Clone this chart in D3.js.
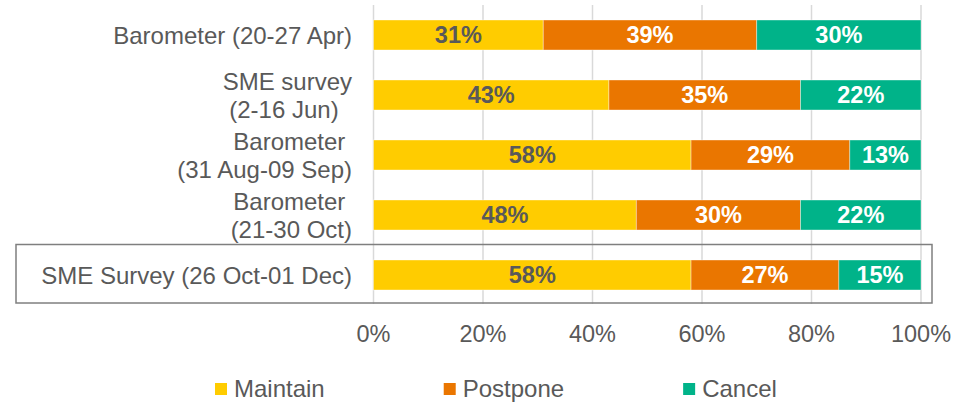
<!DOCTYPE html>
<html>
<head>
<meta charset="utf-8">
<script src="https://cdn.jsdelivr.net/npm/d3@7"></script>
<style>
    html, body { margin: 0; padding: 0; background: #fff; }
    svg { display: block; font-family: "Liberation Sans", Arial, sans-serif; }
    .cat-label, .legend-label { white-space: pre; }
</style>
</head>
<body>
<div id="chart"></div>
<script>
(function () {
    "use strict";

    // Category labels, one entry per line (trailing spaces as in the original)
    const categories = [
        ["Barometer (20-27 Apr)"],
        ["SME survey", "(2-16 Jun)  "],
        ["Barometer ", "(31 Aug-09 Sep)"],
        ["Barometer ", "(21-30 Oct)"],
        ["SME Survey (26 Oct-01 Dec)"]
    ];
    const seriesNames = ["Maintain", "Postpone", "Cancel"];
    const maintain = [31, 43, 58, 48, 58];
    const postpone = [39, 35, 29, 30, 27];
    const cancel = [30, 22, 13, 22, 15];
    const tickValues = [0, 20, 40, 60, 80, 100];
    const boxedRow = 4;

    const width = 975;
    const height = 402;
    const colors = { Maintain: "#ffcc00", Postpone: "#ea7600", Cancel: "#00b389" };
    const labelColors = { Maintain: "#595959", Postpone: "#ffffff", Cancel: "#ffffff" };
    const textGray = "#595959";

    const rows = categories.map((lines, i) => ({
        key: i,
        lines: lines,
        Maintain: maintain[i],
        Postpone: postpone[i],
        Cancel: cancel[i]
    }));

    const stacked = d3.stack().keys(seriesNames)(rows);

    const x = d3.scaleLinear().domain([0, 100]).range([373.5, 921]);
    const y = d3.scaleBand()
        .domain(rows.map((d) => d.key))
        .range([5, 305])
        .paddingInner(0.5)
        .paddingOuter(0.25);

    const svg = d3.select("#chart")
        .append("svg")
        .attr("width", width)
        .attr("height", height);

    // vertical gridlines
    svg.append("g")
        .selectAll("line")
        .data(tickValues)
        .join("line")
        .attr("x1", (d) => x(d))
        .attr("x2", (d) => x(d))
        .attr("y1", 5)
        .attr("y2", 304)
        .attr("stroke", "#d9d9d9")
        .attr("stroke-width", 1.5);

    // box around the latest survey
    svg.append("rect")
        .attr("x", 16)
        .attr("y", y(boxedRow) - 15.5)
        .attr("width", 916)
        .attr("height", 58.5)
        .attr("fill", "none")
        .attr("stroke", "#7f7f7f")
        .attr("stroke-width", 1.5);

    // bars
    const series = svg.append("g")
        .selectAll("g")
        .data(stacked)
        .join("g")
        .attr("fill", (s) => colors[s.key]);

    series.selectAll("rect")
        .data((s) => s)
        .join("rect")
        .attr("x", (d) => x(d[0]))
        .attr("width", (d) => x(d[1]) - x(d[0]))
        .attr("y", (d) => y(d.data.key))
        .attr("height", y.bandwidth())
        .attr("stroke", "#ffffff")
        .attr("stroke-opacity", 0.5)
        .attr("stroke-width", 0.75);

    // value labels
    series.selectAll("text")
        .data((s) => s.map((d) => ({ d: d, key: s.key })))
        .join("text")
        .attr("x", (o) => (x(o.d[0]) + x(o.d[1])) / 2)
        .attr("y", (o) => y(o.d.data.key) + y.bandwidth() / 2 + 8)
        .attr("text-anchor", "middle")
        .attr("font-size", 23.5)
        .attr("font-weight", "bold")
        .attr("fill", (o) => labelColors[o.key])
        .text((o) => (o.d[1] - o.d[0]) + "%");

    // category labels
    const lineHeight = 28;
    svg.append("g")
        .selectAll("text")
        .data(rows)
        .join("text")
        .attr("class", "cat-label")
        .attr("text-anchor", "end")
        .attr("font-size", 24)
        .attr("fill", textGray)
        .each(function (d) {
            const t = d3.select(this);
            const mid = y(d.key) + y.bandwidth() / 2;
            const first = mid + 8.5 - (d.lines.length - 1) * lineHeight / 2;
            d.lines.forEach((line, i) => {
                t.append("tspan")
                    .attr("x", 352)
                    .attr("y", first + i * lineHeight)
                    .text(line);
            });
        });

    // x axis tick labels
    svg.append("g")
        .selectAll("text")
        .data(tickValues)
        .join("text")
        .attr("x", (d) => x(d))
        .attr("y", 342)
        .attr("text-anchor", "middle")
        .attr("font-size", 23.5)
        .attr("fill", textGray)
        .text((d) => d + "%");

    // legend
    const legend = svg.append("g");
    let lx = 215;
    seriesNames.forEach((name) => {
        legend.append("rect")
            .attr("x", lx)
            .attr("y", 383)
            .attr("width", 12)
            .attr("height", 12)
            .attr("fill", colors[name]);
        const label = legend.append("text")
            .attr("class", "legend-label")
            .attr("x", lx + 19)
            .attr("y", 397)
            .attr("font-size", 24)
            .attr("fill", textGray)
            .text(name);
        lx += 19 + label.node().getComputedTextLength() + 119;
    });
}());
</script>
</body>
</html>
